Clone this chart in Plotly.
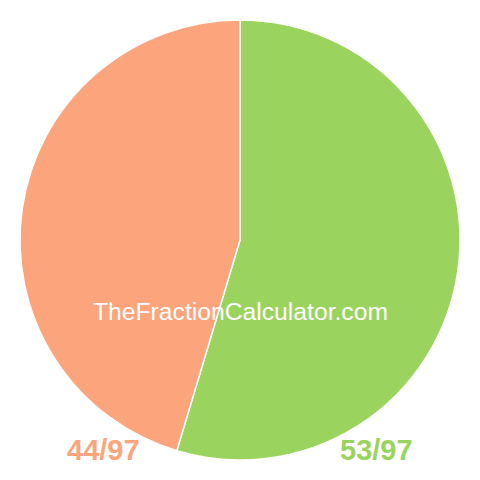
import plotly.graph_objects as go

labels = ["53/97", "44/97"]
values = [53, 44]
colors = ["#9AD45F", "#FCA57D"]
watermark = "TheFractionCalculator.com"

W = H = 480
PAGE_OFFSET = 8  # default body margin of the page


def px_x(px):
    return (px - PAGE_OFFSET) / W


def px_y(py):
    return 1 - (py - PAGE_OFFSET) / H


fig = go.Figure()

fig.add_trace(
    go.Pie(
        labels=labels,
        values=values,
        sort=False,
        direction="clockwise",
        rotation=0,
        textinfo="none",
        hoverinfo="label",
        marker={"colors": colors, "line": {"color": "white", "width": 1.5}},
        domain={"x": [px_x(20), px_x(460)], "y": [px_y(460), px_y(20)]},
        showlegend=False,
    )
)

text_style = {"xref": "paper", "yref": "paper", "showarrow": False,
              "xanchor": "center", "yanchor": "middle"}

fig.add_annotation(
    text=watermark,
    x=px_x(240), y=px_y(311),
    font={"family": "Liberation Sans, Arial", "size": 24.7, "color": "white"},
    **text_style,
)
fig.add_annotation(
    text="<b>" + labels[1] + "</b>",
    x=px_x(103), y=px_y(450),
    font={"family": "Liberation Sans, Arial", "size": 29, "color": colors[1]},
    **text_style,
)
fig.add_annotation(
    text="<b>" + labels[0] + "</b>",
    x=px_x(376), y=px_y(450),
    font={"family": "Liberation Sans, Arial", "size": 29, "color": colors[0]},
    **text_style,
)

fig.update_layout(
    width=W,
    height=H,
    margin={"l": 0, "r": 0, "t": 0, "b": 0},
    paper_bgcolor="white",
    plot_bgcolor="white",
)

fig.write_html("out.html")
